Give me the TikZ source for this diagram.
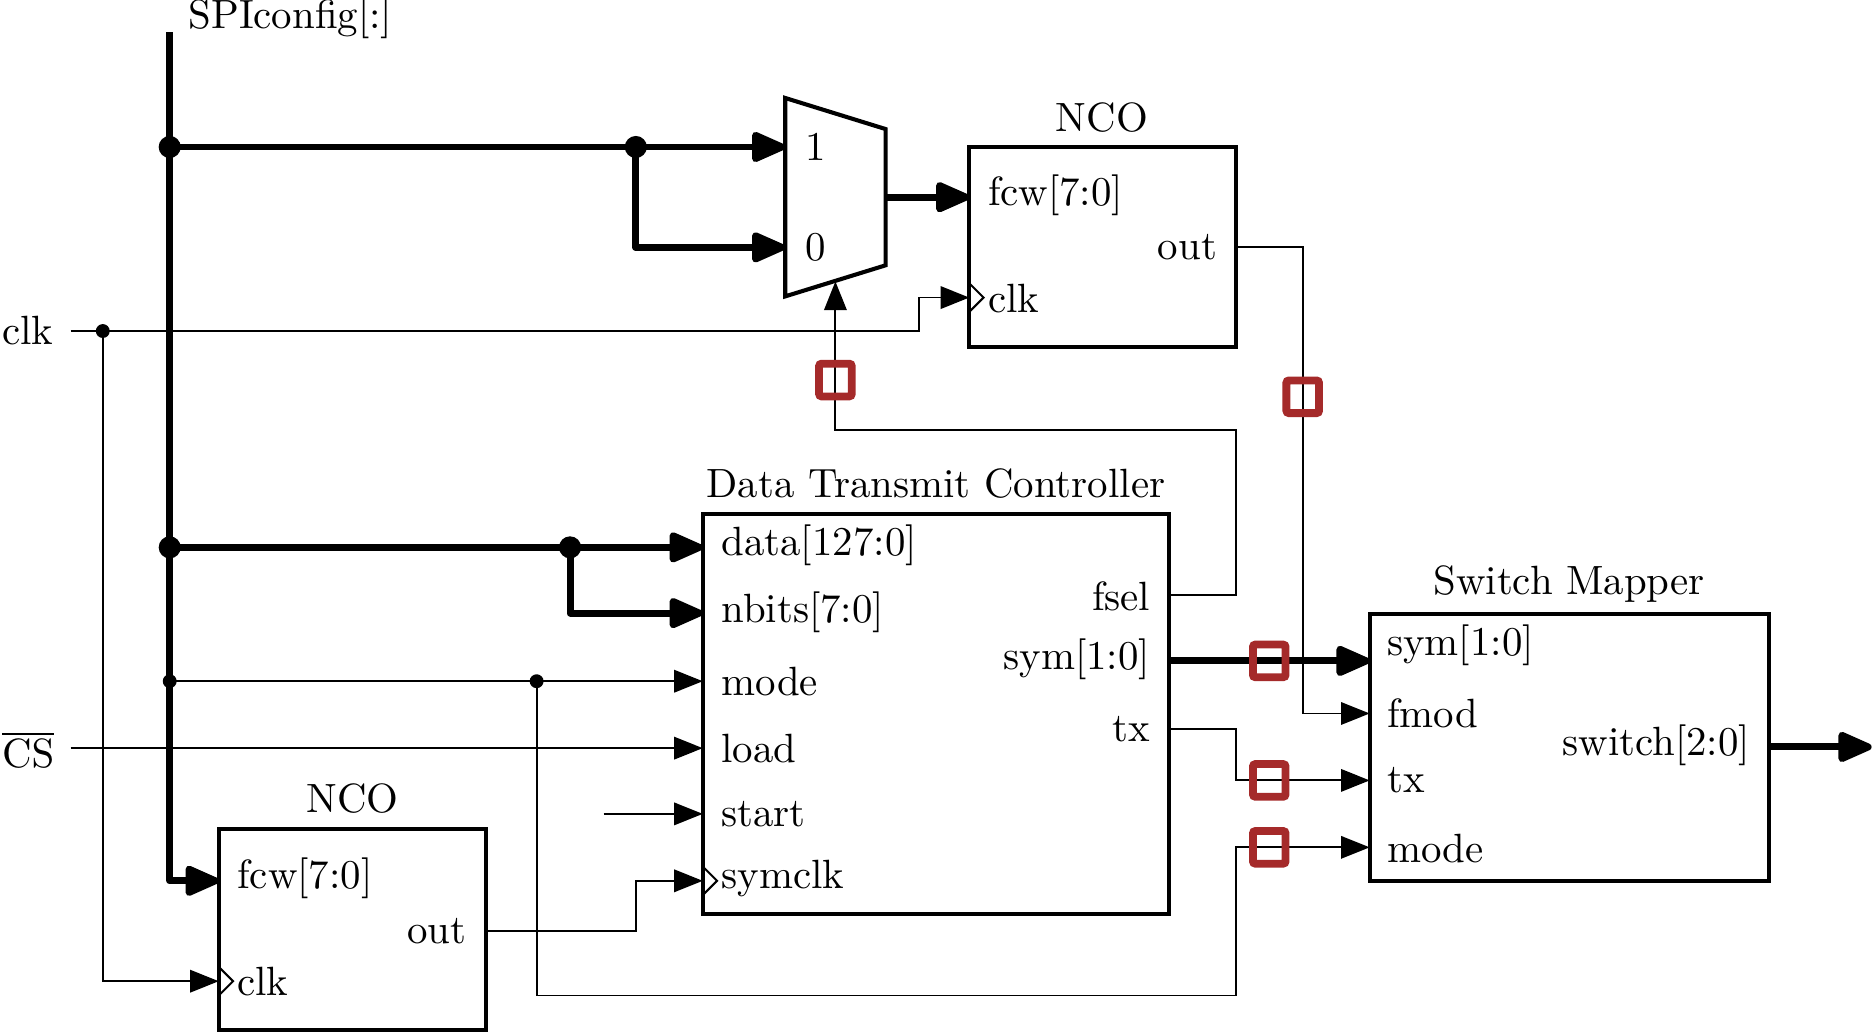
\documentclass[tikz,border=0pt]{standalone}
\usetikzlibrary{arrows.meta,fit,calc}
\definecolor{tapred}{RGB}{165,42,42}
\begin{document}
\begin{tikzpicture}[x=0.2924pt,y=-0.2924pt,
  bus/.style={line width=1.7pt,line join=round},
  wire/.style={line width=0.45pt},
  arrT/.style={-{Triangle[length=7pt,width=5.5pt]}},
  arrB/.style={-{Triangle[length=9.5pt,width=7.8pt,round]}},
  blk/.style={draw,line width=1pt,inner sep=0pt},
  lbl/.style={inner sep=0pt},
  tap/.style={draw=tapred,line width=1.9pt,minimum size=8pt,inner sep=0pt,rounded corners=0.6pt},
  bigdot/.style={circle,fill,inner sep=0pt,minimum size=5.4pt},
  smalldot/.style={circle,fill,inner sep=0pt,minimum size=3.4pt}]
\useasboundingbox (0,0) rectangle (1568,865);

% ---------- blocks ----------
\node[blk,fit={(811,123) (1034,290)}] (ncoT) {};
\node[blk,fit={(588,430) (978,765)}] (dtc) {};
\node[blk,fit={(1146,514) (1480,737)}] (sm) {};
\node[blk,fit={(183,694) (407,862)}] (ncoB) {};
\draw[line width=1pt,line join=miter] (657,82) coordinate (muxA) -- (741,108) -- (741,222) -- (657,248) -- cycle;

% ---------- port coordinates ----------
\coordinate (spitop) at (142,27);
\coordinate (mux1) at (657,123);
\coordinate (mux0) at (657,207);
\coordinate (muxout) at (741,165);
\coordinate (muxsel) at (699,235.5);
\coordinate (ncoTfcw) at (811,165);
\coordinate (ncoTclk) at (811,249);
\coordinate (ncoTout) at (1034,207);
\coordinate (dtcdata) at (588,458);
\coordinate (dtcnbits) at (588,513);
\coordinate (dtcmode) at (588,570);
\coordinate (dtcload) at (588,626);
\coordinate (dtcstart) at (588,681);
\coordinate (dtcsymclk) at (588,737);
\coordinate (dtcfsel) at (978,498);
\coordinate (dtcsym) at (978,553);
\coordinate (dtctx) at (978,610);
\coordinate (smsym) at (1146,553);
\coordinate (smfmod) at (1146,597);
\coordinate (smtx) at (1146,653);
\coordinate (smmode) at (1146,709);
\coordinate (smout) at (1480,625);
\coordinate (swend) at (1566,625);
\coordinate (ncoBfcw) at (183,737);
\coordinate (ncoBclk) at (183,821);
\coordinate (ncoBout) at (407,779);
\coordinate (clkin) at (59,277);
\coordinate (csin) at (59,626);
\coordinate (startin) at (505,681);

% ---------- junctions ----------
\node[bigdot] (j1) at (142,123) {};
\node[bigdot] (j2) at (532,123) {};
\node[bigdot] (j3) at (142,458) {};
\node[bigdot] (j4) at (477,458) {};
\node[smalldot] (j5) at (142,570) {};
\node[smalldot] (j6) at (449,570) {};
\node[smalldot] (jc) at (86,277) {};

% ---------- thin wires ----------
\draw[wire,arrT] (clkin) -- (769,277) |- (ncoTclk);
\draw[wire,arrT] (jc.center) |- (ncoBclk);
\draw[wire,arrT] (csin) -- (dtcload);
\draw[wire,arrT] (j5.center) -- (dtcmode);
\draw[wire,arrT] (j6.center) |- (1034,833) |- (smmode);
\draw[wire,arrT] (startin) -- (dtcstart);
\draw[wire,arrT] (ncoBout) -| (532,737) -- (dtcsymclk);
\draw[wire,arrT] (dtcfsel) -| (1034,360) -| (muxsel);
\draw[wire,arrT] (ncoTout) -| (1090,597) -- (smfmod);
\draw[wire,arrT] (dtctx) -| (1034,653) -- (smtx);

% ---------- buses ----------
\draw[bus,arrB] (spitop) |- (ncoBfcw);
\draw[bus,arrB] (j1.center) -- (mux1);
\draw[bus,arrB] (j2.center) |- (mux0);
\draw[bus,arrB] (muxout) -- (ncoTfcw);
\draw[bus,arrB] (j3.center) -- (dtcdata);
\draw[bus,arrB] (j4.center) |- (dtcnbits);
\draw[bus,arrB] (dtcsym) -- (smsym);
\draw[bus,arrB] (smout) -- (swend);

% ---------- clock triangles ----------
\draw[wire,line width=0.5pt] ($(ncoTclk)+(0,-12)$) -- ++(12,12) -- ++(-12,12);
\draw[wire,line width=0.5pt] ($(ncoBclk)+(0,-12)$) -- ++(12,12) -- ++(-12,12);
\draw[wire,line width=0.5pt] ($(dtcsymclk)+(0,-12)$) -- ++(12,12) -- ++(-12,12);

% ---------- taps ----------
\node[tap] (tap1) at (699,318) {};
\node[tap] (tap2) at (1090,332) {};
\node[tap] (tap3) at (1062,553) {};
\node[tap] (tap4) at (1062,653) {};
\node[tap] (tap5) at (1062,709) {};

% ---------- labels ----------
\node[lbl,anchor=west] (lspi) at (157,15) {SPIconfig[:]};
\node[lbl,anchor=west] (lclk) at (1,277) {clk};
\node[lbl,anchor=west] (lcs) at (1,627) {$\overline{\mathrm{CS}}$};
\node[lbl,anchor=west] (lm1) at (673,123) {1};
\node[lbl,anchor=west] (lm0) at (673,207) {0};

\node[lbl] (tncoT) at (922,98) {NCO};
\node[lbl,anchor=west] (l1) at (826,163) {fcw[7:0]};
\node[lbl,anchor=east] (l2) at (1019,207) {out};
\node[lbl,anchor=west] (l3) at (826,250) {clk};

\node[lbl] (tdtc) at (783,405) {Data Transmit Controller};
\node[lbl,anchor=west] (l4) at (603,456) {data[127:0]};
\node[lbl,anchor=west] (l5) at (603,512) {nbits[7:0]};
\node[lbl,anchor=west] (l6) at (603,570) {mode};
\node[lbl,anchor=west] (l7) at (603,626) {load};
\node[lbl,anchor=west] (l8) at (603,681) {start};
\node[lbl,anchor=west] (l9) at (603,735) {symclk};
\node[lbl,anchor=east] (l10) at (963,499) {fsel};
\node[lbl,anchor=east] (l11) at (963,552) {sym[1:0]};
\node[lbl,anchor=east] (l12) at (963,610) {tx};

\node[lbl] (tsm) at (1313,489) {Switch Mapper};
\node[lbl,anchor=west] (l13) at (1160,540) {sym[1:0]};
\node[lbl,anchor=west] (l14) at (1160,597) {fmod};
\node[lbl,anchor=west] (l15) at (1160,653) {tx};
\node[lbl,anchor=west] (l16) at (1160,710) {mode};
\node[lbl,anchor=east] (l17) at (1465,624) {switch[2:0]};

\node[lbl] (tncoB) at (295,668) {NCO};
\node[lbl,anchor=west] (l18) at (198,735) {fcw[7:0]};
\node[lbl,anchor=east] (l19) at (391,779) {out};
\node[lbl,anchor=west] (l20) at (198,821) {clk};
\end{tikzpicture}
\end{document}
